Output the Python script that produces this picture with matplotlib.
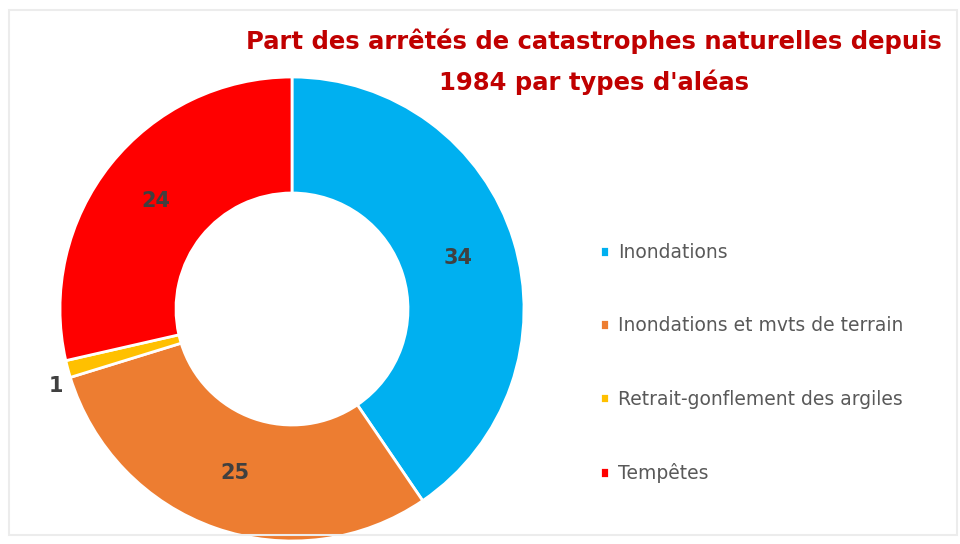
import matplotlib.pyplot as plt
from matplotlib.patches import Rectangle
import numpy as np

# data
categories = ['Inondations', 'Inondations et mvts de terrain',
              'Retrait-gonflement des argiles', 'Tempêtes']
values = [34, 25, 1, 24]
colors = ['#00B0F0', '#ED7D31', '#FFC000', '#FF0000']
title = "Part des arrêtés de catastrophes naturelles depuis\n1984 par types d'aléas"

plt.rcParams['font.family'] = ['DejaVu Sans']

fig = plt.figure(figsize=(9.6, 5.44), dpi=100)
W, H = 960, 544

# faint frame around the chart area
fig.patches.append(Rectangle((9 / W, 1 - 535 / H), 948 / W, 525 / H, transform=fig.transFigure,
                             fill=False, edgecolor='#ececec', linewidth=1.5))

cx, cy, r = 292, 309, 232
ax = fig.add_axes([(cx - r) / W, (H - cy - r) / H, 2 * r / W, 2 * r / H])
wedges, _ = ax.pie(values, colors=colors, startangle=90, counterclock=False,
                   radius=1, wedgeprops=dict(width=0.5, edgecolor='white', linewidth=2))
ax.set_xlim(-1, 1)
ax.set_ylim(-1, 1)
ax.set_aspect('equal')
ax.axis('off')

# value labels (small slice labelled outside, just below it)
for w, v in zip(wedges, values):
    mid = (w.theta1 + w.theta2) / 2
    if v > 5:
        d, ang = 0.75, np.deg2rad(mid)
    else:
        d, ang = 1.07, np.deg2rad(mid + 3)
    ax.text(d * np.cos(ang), d * np.sin(ang), str(v), ha='center', va='center',
            fontsize=15, fontweight='bold', color='#404040')

fig.text(594 / W, 1 - 62 / H, title, ha='center', va='center', fontsize=17.5,
         fontweight='bold', color='#C00000', linespacing=1.75)

leg = fig.legend(wedges, categories, loc='upper left', bbox_to_anchor=(583 / W, 1 - 226 / H),
                 frameon=False, fontsize=13.5, labelcolor='#595959', handlelength=0.5,
                 handleheight=0.5, handletextpad=0.45, labelspacing=2.9)

fig.savefig('out.png', dpi=100, facecolor='white')
